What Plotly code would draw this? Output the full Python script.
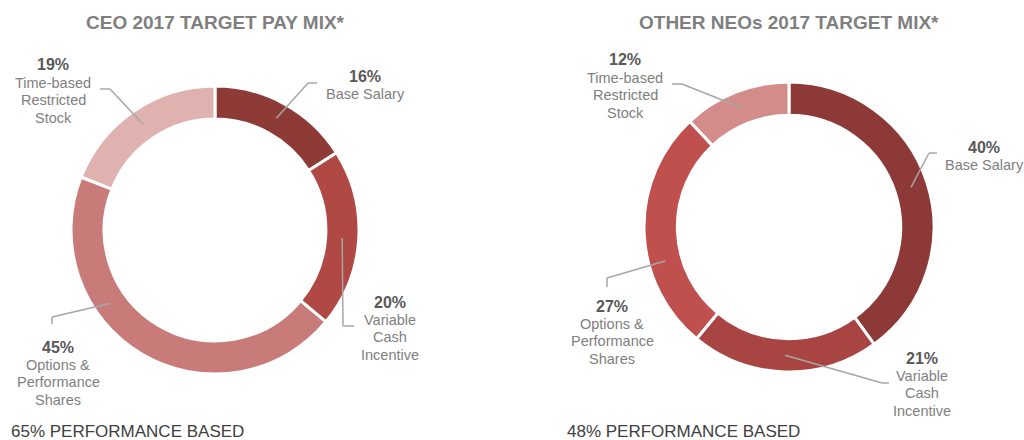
import math
import plotly.graph_objects as go

W, H = 1024, 440

# ---- data ----
categories = ["Base Salary", "Variable Cash Incentive", "Options & Performance Shares",
              "Time-based Restricted Stock"]
label_lines = [["Base Salary"], ["Variable", "Cash", "Incentive"],
               ["Options &", "Performance", "Shares"], ["Time-based", "Restricted", "Stock"]]
ceo_values = [16, 20, 45, 19]
neo_values = [40, 21, 27, 12]
ceo_title = "CEO 2017 TARGET PAY MIX*"
neo_title = "OTHER NEOs 2017 TARGET MIX*"
ceo_footer = "65% PERFORMANCE BASED"
neo_footer = "48% PERFORMANCE BASED"

# ---- styles / layout ----
ceo_colors = ["#8e3b38", "#b04844", "#c87b79", "#dfb2b0"]
neo_colors = ["#8d3937", "#a84442", "#c0504d", "#d38c8a"]
HOLE = 0.77

charts = [
    dict(values=ceo_values, colors=ceo_colors, cx=215, cy=230, r=144, title=ceo_title,
         footer=ceo_footer, footer_x=9,
         text_pos=[(365, 76), (390, 302), (58, 347), (53, 65)],
         elbows=[[(317, 83), (308, 83)], [(354, 326), (343, 326)],
                 [(52, 324), (52, 317)], [(100, 89), (110, 89)]],
         frac=[0.5, 0.5, 0.65, 0.5]),
    dict(values=neo_values, colors=neo_colors, cx=789, cy=227, r=145, title=neo_title,
         footer=neo_footer, footer_x=565,
         text_pos=[(984, 147), (922, 358), (612, 306), (625, 60)],
         elbows=[[(937, 153), (929, 153)], [(889, 383), (882, 383)],
                 [(607, 287), (607, 278)], [(672, 84), (682, 84)]],
         frac=[0.5, 0.5, 0.36, 0.5]),
]


def px(x):
    return x / W


def py(y):
    return 1 - y / H


fig = go.Figure()
annotations = []
shapes = []
FONT = "Liberation Sans, Arial, sans-serif"

for c in charts:
    fig.add_trace(go.Pie(
        labels=categories, values=c["values"], hole=HOLE, sort=False,
        direction="clockwise", rotation=0,
        marker=dict(colors=c["colors"], line=dict(color="white", width=3)),
        textinfo="none", hoverinfo="label+percent", showlegend=False,
        domain=dict(x=[px(c["cx"] - c["r"]), px(c["cx"] + c["r"])],
                    y=[py(c["cy"] + c["r"]), py(c["cy"] - c["r"])]),
    ))
    # title
    annotations.append(dict(text="<b>" + c["title"] + "</b>", x=px(c["cx"]), y=py(23),
                            xref="paper", yref="paper", showarrow=False,
                            xanchor="center", yanchor="middle",
                            font=dict(family=FONT, size=19, color="#7f7f7f")))
    # footer
    annotations.append(dict(text=c["footer"], x=px(c["footer_x"]), y=0,
                            xref="paper", yref="paper", showarrow=False,
                            xanchor="left", yanchor="bottom", yshift=-3,
                            font=dict(family=FONT, size=17, color="#404040")))
    total = sum(c["values"])
    cum = 0
    rmid = c["r"] * (1 + HOLE) / 2
    for i, v in enumerate(c["values"]):
        a0 = cum / total * 360
        a1 = (cum + v) / total * 360
        cum += v
        ang = math.radians(a0 + (a1 - a0) * c["frac"][i])
        ax = c["cx"] + rmid * math.sin(ang)
        ay = c["cy"] - rmid * math.cos(ang)
        tx, ty = c["text_pos"][i]
        annotations.append(dict(text="<b>%d%%</b>" % v, x=px(tx), y=py(ty),
                                xref="paper", yref="paper", showarrow=False,
                                xanchor="center", yanchor="middle",
                                font=dict(family=FONT, size=16, color="#595959")))
        for k, line in enumerate(label_lines[i]):
            annotations.append(dict(text=line, x=px(tx), y=py(ty + 18 + 17.3 * k),
                                    xref="paper", yref="paper", showarrow=False,
                                    xanchor="center", yanchor="middle",
                                    font=dict(family=FONT, size=14.5, color="#808080")))
        pts = c["elbows"][i] + [(ax, ay)]
        for (x0, y0), (x1, y1) in zip(pts[:-1], pts[1:]):
            shapes.append(dict(type="line", xref="paper", yref="paper",
                               x0=px(x0), y0=py(y0), x1=px(x1), y1=py(y1),
                               line=dict(color="#a6a6a6", width=1.5)))

fig.update_layout(width=W, height=H, margin=dict(l=0, r=0, t=0, b=0),
                  paper_bgcolor="white", plot_bgcolor="white",
                  annotations=annotations, shapes=shapes)
fig.write_html("out.html", config={"displayModeBar": False},
               post_script="document.body.style.margin='0';document.body.style.overflow='hidden';")
